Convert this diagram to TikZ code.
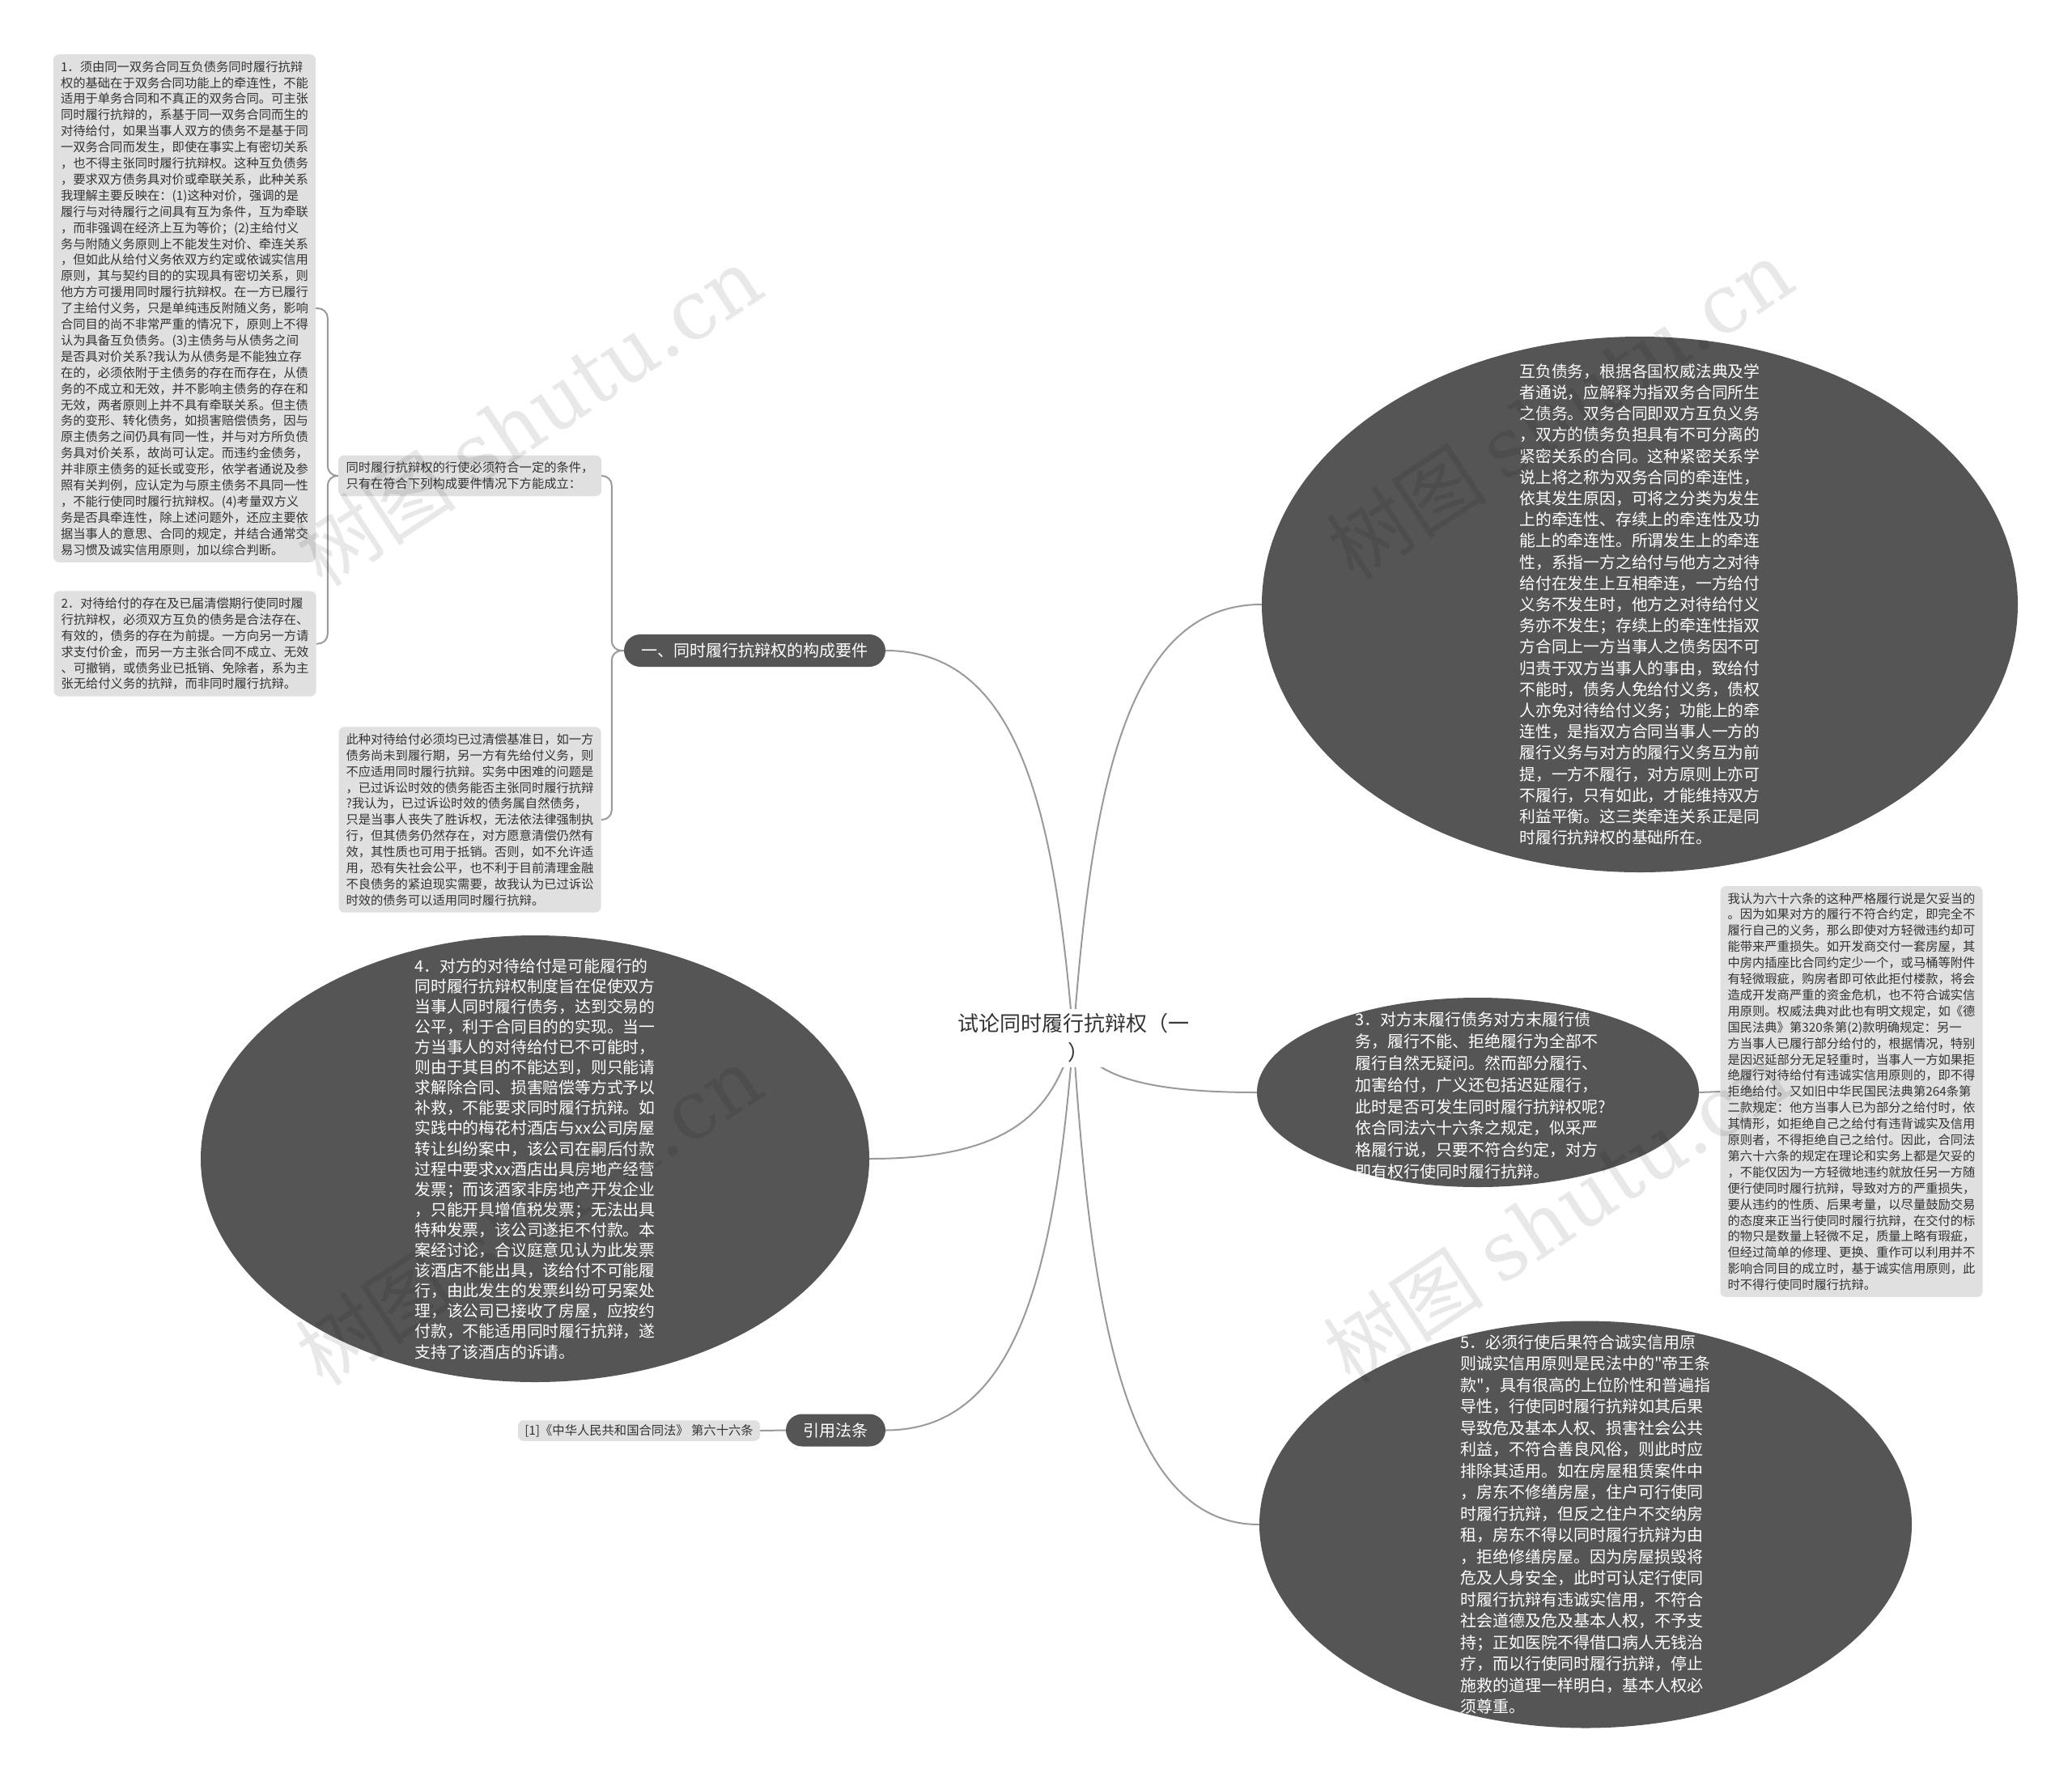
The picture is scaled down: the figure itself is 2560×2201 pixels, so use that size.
\documentclass[tikz,border=0pt]{standalone}
\usepackage{fontspec}
\newfontfamily\cjk{Noto Sans CJK SC}
\newfontfamily\wmfont{DejaVu Serif}
\usetikzlibrary{shapes.geometric,calc,backgrounds}
\definecolor{boxgray}{HTML}{E0E0E0}
\definecolor{darkfill}{HTML}{555555}
\definecolor{txt}{HTML}{333333}
\definecolor{linec}{HTML}{9A9A9A}
\newcommand\rlink[1]{\draw[link] let \p1=(root.center), \p2=(#1) in (\p1) .. controls ({\x1+0.1*(\x2-\x1)},{\y1+0.6*(\y2-\y1)}) and ({\x1+0.3*(\x2-\x1)},\y2) .. (\p2);}
\begin{document}
\begin{tikzpicture}[x=1pt,y=-1pt,
  sbox/.style={fill=boxgray, rounded corners=7, align=left, text=txt, inner xsep=9, inner ysep=8, font=\cjk\fontsize{15.3}{19.9}\selectfont},
  pill/.style={fill=darkfill, rounded corners=20, text=white, font=\cjk\fontsize{20}{24}\selectfont, minimum height=40, inner xsep=12, inner ysep=0},
  ell/.style={ellipse, fill=darkfill, inner sep=0},
  etext/.style={align=left, text=white, inner sep=0},
  link/.style={draw=linec, line width=2},
  wm/.style={rotate=33.5, text=black, text opacity=0.09, inner sep=0, font=\cjk\fontsize{100}{100}\selectfont}]
\useasboundingbox (0,0) rectangle (2560,2201);

% root
\node[fill=white, align=center, text=txt, inner sep=6, font=\cjk\fontsize{26}{36}\selectfont] (root) at (1326,1283) {试论同时履行抗辩权（一\\\hspace*{12pt}）};

% left tree
\node[pill, minimum width=323] (p1) at (932.5,804) {一、同时履行抗辩权的构成要件};
\node[pill, minimum width=123] (p2) at (1032.5,1767.5) {引用法条};
\node[sbox, minimum width=299, inner xsep=6, inner ysep=5, font=\cjk\fontsize{15.3}{18}\selectfont] (ref) at (789.5,1768) {[1]《中华人民共和国合同法》 第六十六条};

\node[sbox, minimum width=325] (cond) at (580.5,588) {同时履行抗辩权的行使必须符合一定的条件，\\
只有在符合下列构成要件情况下方能成立：};

\node[sbox, minimum width=323] (ci) at (580.5,1013) {此种对待给付必须均已过清偿基准日，如一方\\
债务尚未到履行期，另一方有先给付义务，则\\
不应适用同时履行抗辩。实务中困难的问题是\\
，已过诉讼时效的债务能否主张同时履行抗辩\\
?我认为，已过诉讼时效的债务属自然债务，\\
只是当事人丧失了胜诉权，无法依法律强制执\\
行，但其债务仍然存在，对方愿意清偿仍然有\\
效，其性质也可用于抵销。否则，如不允许适\\
用，恐有失社会公平，也不利于目前清理金融\\
不良债务的紧迫现实需要，故我认为已过诉讼\\
时效的债务可以适用同时履行抗辩。};

\node[sbox, minimum width=324] (b1) at (228,381) {1．须由同一双务合同互负债务同时履行抗辩\\
权的基础在于双务合同功能上的牵连性，不能\\
适用于单务合同和不真正的双务合同。可主张\\
同时履行抗辩的，系基于同一双务合同而生的\\
对待给付，如果当事人双方的债务不是基于同\\
一双务合同而发生，即使在事实上有密切关系\\
，也不得主张同时履行抗辩权。这种互负债务\\
，要求双方债务具对价或牵联关系，此种关系\\
我理解主要反映在：(1)这种对价，强调的是\\
履行与对待履行之间具有互为条件，互为牵联\\
，而非强调在经济上互为等价；(2)主给付义\\
务与附随义务原则上不能发生对价、牵连关系\\
，但如此从给付义务依双方约定或依诚实信用\\
原则，其与契约目的的实现具有密切关系，则\\
他方方可援用同时履行抗辩权。在一方已履行\\
了主给付义务，只是单纯违反附随义务，影响\\
合同目的尚不非常严重的情况下，原则上不得\\
认为具备互负债务。(3)主债务与从债务之间\\
是否具对价关系?我认为从债务是不能独立存\\
在的，必须依附于主债务的存在而存在，从债\\
务的不成立和无效，并不影响主债务的存在和\\
无效，两者原则上并不具有牵联关系。但主债\\
务的变形、转化债务，如损害赔偿债务，因与\\
原主债务之间仍具有同一性，并与对方所负债\\
务具对价关系，故尚可认定。而违约金债务，\\
并非原主债务的延长或变形，依学者通说及参\\
照有关判例，应认定为与原主债务不具同一性\\
，不能行使同时履行抗辩权。(4)考量双方义\\
务是否具牵连性，除上述问题外，还应主要依\\
据当事人的意思、合同的规定，并结合通常交\\
易习惯及诚实信用原则，加以综合判断。};

\node[sbox, minimum width=323] (b2) at (228.5,795.5) {2．对待给付的存在及已届清偿期行使同时履\\
行抗辩权，必须双方互负的债务是合法存在、\\
有效的，债务的存在为前提。一方向另一方请\\
求支付价金，而另一方主张合同不成立、无效\\
、可撤销，或债务业已抵销、免除者，系为主\\
张无给付义务的抗辩，而非同时履行抗辩。};

% ellipse 4 (left)
\node[ell, minimum width=826, minimum height=552] (e4) at (661,1432) {};
\node[etext, font=\cjk\fontsize{19.8}{25.1}\selectfont] (e4t) at (e4.center) {4．对方的对待给付是可能履行的\\
同时履行抗辩权制度旨在促使双方\\
当事人同时履行债务，达到交易的\\
公平，利于合同目的的实现。当一\\
方当事人的对待给付已不可能时，\\
则由于其目的不能达到，则只能请\\
求解除合同、损害赔偿等方式予以\\
补救，不能要求同时履行抗辩。如\\
实践中的梅花村酒店与xx公司房屋\\
转让纠纷案中，该公司在嗣后付款\\
过程中要求xx酒店出具房地产经营\\
发票；而该酒家非房地产开发企业\\
，只能开具增值税发票；无法出具\\
特种发票，该公司遂拒不付款。本\\
案经讨论，合议庭意见认为此发票\\
该酒店不能出具，该给付不可能履\\
行，由此发生的发票纠纷可另案处\\
理，该公司已接收了房屋，应按约\\
付款，不能适用同时履行抗辩，遂\\
支持了该酒店的诉请。};

% right side
\node[ell, minimum width=934, minimum height=662] (e0) at (2026,747) {};
\node[etext, font=\cjk\fontsize{19.8}{26.2}\selectfont] (e0t) at (e0.center) {互负债务，根据各国权威法典及学\\
者通说，应解释为指双务合同所生\\
之债务。双务合同即双方互负义务\\
，双方的债务负担具有不可分离的\\
紧密关系的合同。这种紧密关系学\\
说上将之称为双务合同的牵连性，\\
依其发生原因，可将之分类为发生\\
上的牵连性、存续上的牵连性及功\\
能上的牵连性。所谓发生上的牵连\\
性，系指一方之给付与他方之对待\\
给付在发生上互相牵连，一方给付\\
义务不发生时，他方之对待给付义\\
务亦不发生；存续上的牵连性指双\\
方合同上一方当事人之债务因不可\\
归责于双方当事人的事由，致给付\\
不能时，债务人免给付义务，债权\\
人亦免对待给付义务；功能上的牵\\
连性，是指双方合同当事人一方的\\
履行义务与对方的履行义务互为前\\
提，一方不履行，对方原则上亦可\\
不履行，只有如此，才能维持双方\\
利益平衡。这三类牵连关系正是同\\
时履行抗辩权的基础所在。};

\node[ell, minimum width=546, minimum height=234] (e3) at (1826,1350) {};
\node[etext, font=\cjk\fontsize{20}{26.9}\selectfont] (e3t) at (1829,1354) {3．对方末履行债务对方末履行债\\
务，履行不能、拒绝履行为全部不\\
履行自然无疑问。然而部分履行、\\
加害给付，广义还包括迟延履行，\\
此时是否可发生同时履行抗辩权呢?\\
依合同法六十六条之规定，似采严\\
格履行说，只要不符合约定，对方\\
即有权行使同时履行抗辩。};

\node[sbox, minimum width=321] (rb) at (2287.5,1349) {我认为六十六条的这种严格履行说是欠妥当的\\
。因为如果对方的履行不符合约定，即完全不\\
履行自己的义务，那么即使对方轻微违约却可\\
能带来严重损失。如开发商交付一套房屋，其\\
中房内插座比合同约定少一个，或马桶等附件\\
有轻微瑕疵，购房者即可依此拒付楼款，将会\\
造成开发商严重的资金危机，也不符合诚实信\\
用原则。权威法典对此也有明文规定，如《德\\
国民法典》第320条第(2)款明确规定：另一\\
方当事人已履行部分给付的，根据情况，特别\\
是因迟延部分无足轻重时，当事人一方如果拒\\
绝履行对待给付有违诚实信用原则的，即不得\\
拒绝给付。又如旧中华民国民法典第264条第\\
二款规定：他方当事人已为部分之给付时，依\\
其情形，如拒绝自己之给付有违背诚实及信用\\
原则者，不得拒绝自己之给付。因此，合同法\\
第六十六条的规定在理论和实务上都是欠妥的\\
，不能仅因为一方轻微地违约就放任另一方随\\
便行使同时履行抗辩，导致对方的严重损失，\\
要从违约的性质、后果考量，以尽量鼓励交易\\
的态度来正当行使同时履行抗辩，在交付的标\\
的物只是数量上轻微不足，质量上略有瑕疵，\\
但经过简单的修理、更换、重作可以利用并不\\
影响合同目的成立时，基于诚实信用原则，此\\
时不得行使同时履行抗辩。};

\node[ell, minimum width=806, minimum height=503] (e5) at (1959,1884) {};
\node[etext, font=\cjk\fontsize{20}{26.5}\selectfont] (e5t) at (e5.center) {5．必须行使后果符合诚实信用原\\
则诚实信用原则是民法中的"帝王条\\
款"，具有很高的上位阶性和普遍指\\
导性，行使同时履行抗辩如其后果\\
导致危及基本人权、损害社会公共\\
利益，不符合善良风俗，则此时应\\
排除其适用。如在房屋租赁案件中\\
，房东不修缮房屋，住户可行使同\\
时履行抗辩，但反之住户不交纳房\\
租，房东不得以同时履行抗辩为由\\
，拒绝修缮房屋。因为房屋损毁将\\
危及人身安全，此时可认定行使同\\
时履行抗辩有违诚实信用，不符合\\
社会道德及危及基本人权，不予支\\
持；正如医院不得借口病人无钱治\\
疗，而以行使同时履行抗辩，停止\\
施救的道理一样明白，基本人权必\\
须尊重。};

% connectors
\begin{pgfonlayer}{background}
\fill[white] (0,0) rectangle (2560,2201);
\rlink{p1.east}
\rlink{p2.east}
\rlink{e4.east}
\rlink{e0.west}
\rlink{e3.west}
\rlink{e5.west}
\draw[link, rounded corners=12] (p1.west) -- ++(-15,0) |- (cond.east);
\draw[link, rounded corners=12] (p1.west) -- ++(-15,0) |- (ci.east);
\draw[link, rounded corners=12] (cond.west) -- ++(-13,0) |- (b1.east);
\draw[link, rounded corners=12] (cond.west) -- ++(-13,0) |- (b2.east);
\draw[link] (ref.east) -- (p2.west);
\draw[link] (e3.east) -- (rb.west);
\end{pgfonlayer}

% watermarks
\node[wm] (w1) at (653,514) {树图 {\wmfont shutu.cn}};
\node[wm] (w2) at (1927,506) {树图 {\wmfont shutu.cn}};
\node[wm] (w3) at (653,1502) {树图 {\wmfont shutu.cn}};
\node[wm] (w4) at (1923,1499) {树图 {\wmfont shutu.cn}};
\end{tikzpicture}
\end{document}
